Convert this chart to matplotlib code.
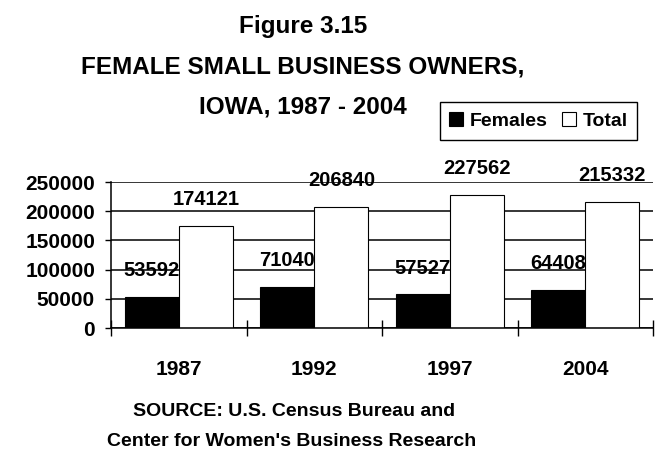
import matplotlib
matplotlib.use('Agg')
import matplotlib.pyplot as plt
import numpy as np

# datos del grafico
years = ['1987', '1992', '1997', '2004']
females = [53592, 71040, 57527, 64408]
total = [174121, 206840, 227562, 215332]
yticks = [0, 50000, 100000, 150000, 200000, 250000]

plt.rcParams['font.family'] = ['Liberation Sans', 'DejaVu Sans']
plt.rcParams['font.weight'] = 'bold'

fig = plt.figure(figsize=(6.6, 4.51), dpi=100)
ax = fig.add_axes([111/660, 1-328/451, 542/660, 146/451])

x = np.arange(len(years))
w = 0.4
b1 = ax.bar(x - w/2, females, w, color='black', edgecolor='black', linewidth=0.8, label='Females', zorder=2)
b2 = ax.bar(x + w/2, total, w, color='white', edgecolor='black', linewidth=0.8, label='Total', zorder=2)

# etiquetas de datos encima de cada barra
for bars, vals in [(b1, females), (b2, total)]:
    for r, v in zip(bars, vals):
        ax.annotate(str(v), (r.get_x() + r.get_width()/2, v), xytext=(0, 19),
                    textcoords='offset points', ha='center', va='center',
                    fontsize=14.5, fontweight='bold', zorder=3)

ax.set_xlim(-0.5, len(years) - 0.5)
ax.set_ylim(0, 250000)
ax.set_yticks(yticks)
ax.set_yticklabels([str(t) for t in yticks], fontsize=15, fontweight='bold')
ax.yaxis.grid(True, color='black', linewidth=1.1, zorder=0)
ax.set_axisbelow(True)

# marcas en los limites de las categorias, etiquetas en el centro
ax.set_xticks(np.arange(len(years) + 1) - 0.5)
ax.set_xticklabels([])
ax.set_xticks(x, minor=True)
ax.set_xticklabels(years, minor=True, fontsize=15, fontweight='bold')
ax.tick_params(axis='x', which='major', direction='inout', length=11, width=1)
ax.tick_params(axis='x', which='minor', length=0, pad=23)
ax.tick_params(axis='y', direction='out', length=4.5, width=1, pad=7)

for s in ['top', 'right']:
    ax.spines[s].set_visible(False)
ax.spines['left'].set_linewidth(1.1)
ax.spines['bottom'].set_linewidth(1.1)

# titulo
tx = 303/660
fig.text(tx, 1-26/451, 'Figure 3.15', ha='center', va='center', fontsize=17.5, fontweight='bold')
fig.text(tx, 1-67/451, 'FEMALE SMALL BUSINESS OWNERS,', ha='center', va='center', fontsize=17.5, fontweight='bold')
fig.text(tx, 1-107/451, 'IOWA, 1987 - 2004', ha='center', va='center', fontsize=17.5, fontweight='bold')

# fuente
fig.text(294/660, 1-412/451, 'SOURCE: U.S. Census Bureau and', ha='center', va='center', fontsize=14, fontweight='bold')
fig.text(292/660, 1-441/451, "Center for Women's Business Research", ha='center', va='center', fontsize=14, fontweight='bold')

leg = fig.legend(handles=[b1, b2], loc='center', bbox_to_anchor=(538.5/660, 1-121/451),
                 ncol=2, prop={'weight': 'bold', 'size': 14},
                 handlelength=0.7, handleheight=0.7, handletextpad=0.35,
                 columnspacing=0.75, borderpad=0.5, fancybox=False, framealpha=1)
leg.get_frame().set_edgecolor('black')
leg.get_frame().set_linewidth(1)

fig.savefig('out.png', dpi=100)
